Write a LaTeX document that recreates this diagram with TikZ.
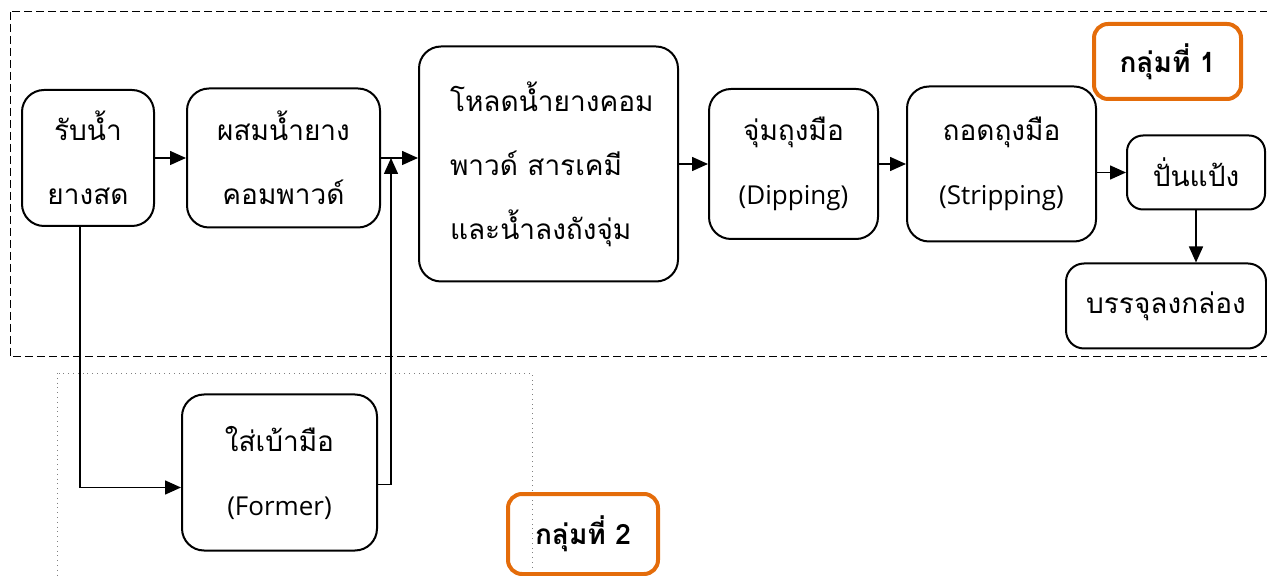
\documentclass[tikz,border=0pt]{standalone}
\usepackage{fontspec}
\setmainfont{Open Sans}
\newfontfamily\thaifont[Script=Thai]{Loma}
\usetikzlibrary{positioning,arrows.meta}

\definecolor{groupcol}{HTML}{E46C0A}
\newcommand{\lat}[1]{{\rmfamily\fontsize{13}{32}\selectfont #1}}

\tikzset{
	stepbox/.style={draw,
		line width=1pt,
		rounded corners=11pt,
		align=center,
		inner sep=0pt,
		font=\thaifont\fontsize{14}{32}\selectfont},
	groupbox/.style={draw=groupcol,
		line width=2pt,
		rounded corners=7pt,
		inner sep=0pt,
		font=\thaifont\bfseries\fontsize{14}{17}\selectfont},
	flow/.style={-{Triangle[length=8pt,width=7pt]}, line width=0.75pt},
}

\begin{document}
\begin{tikzpicture}[x=0.5pt,y=-0.5pt]
	\useasboundingbox (0,0) rectangle (1267,576);

	% group frames
	\draw[dashed, dash pattern=on 4pt off 2pt, line width=0.5pt] (10,12) rectangle (1290,357);
	\draw[dotted, gray, line width=0.4pt] (57,373) rectangle (532,600);

	% main line
	\node[stepbox,
		minimum width=66pt,
		minimum height=68pt
	] (receive) at (88,158) {รับน้ำ\\ยางสด};

	\node[stepbox,
		right=15.5pt of receive,
		minimum width=96.5pt,
		minimum height=69.5pt
	] (mixing) {ผสมน้ำยาง\\คอมพาวด์};

	\node[stepbox,
		right=18.5pt of mixing,
		yshift=-3pt,
		align=left,
		text width=98.5pt,
		inner xsep=15.5pt,
		minimum height=117.5pt
	] (loading) {โหลดน้ำยางคอม\\พาวด์ สารเคมี\\และน้ำลงถังจุ่ม};

	\node[stepbox,
		right=14.5pt of loading,
		minimum width=84.5pt,
		minimum height=75pt
	] (dipping) {จุ่มถุงมือ\\\lat{(Dipping)}};

	\node[stepbox,
		right=13.5pt of dipping,
		minimum width=94.5pt,
		minimum height=77.5pt
	] (stripping) {ถอดถุงมือ\\\lat{(Stripping)}};

	\node[stepbox,
		right=14.5pt of stripping,
		yshift=-4.25pt,
		rounded corners=8pt,
		minimum width=69pt,
		minimum height=37pt
	] (powder) {ปั่นแป้ง};

	\node[stepbox,
		below=26pt of powder,
		xshift=-15pt,
		rounded corners=9pt,
		minimum width=100pt,
		minimum height=42.5pt
	] (packing) {บรรจุลงกล่อง};

	% former branch
	\node[stepbox,
		below=82.5pt of mixing,
		xshift=-2pt,
		minimum width=97.5pt,
		minimum height=78pt
	] (former) {ใส่เบ้ามือ\\\lat{(Former)}};

	% group labels
	\node[groupbox,
		minimum width=73.5pt,
		minimum height=37.5pt
	] (groupone) at (1167.5,61.5) {กลุ่มที่ 1};

	\node[groupbox,
		minimum width=75pt,
		minimum height=40pt
	] (grouptwo) at (583,534) {กลุ่มที่ 2};

	\draw[flow] (receive) -- (mixing);
	\draw[flow] (mixing.east) -- (mixing.east -| loading.west);
	\draw[flow] (loading) -- (dipping);
	\draw[flow] (dipping) -- (stripping);
	\draw[flow] (powder.west -| stripping.east) -- (powder.west);
	\draw[flow] (powder.south) -- (powder.south |- packing.north);
	\draw[flow] ([xshift=-4pt]receive.south) |- ([yshift=-7.5pt]former.west);
	\draw[flow] ([yshift=-6pt]former.east) -| ([xshift=5pt]mixing.east);

\end{tikzpicture}
\end{document}
